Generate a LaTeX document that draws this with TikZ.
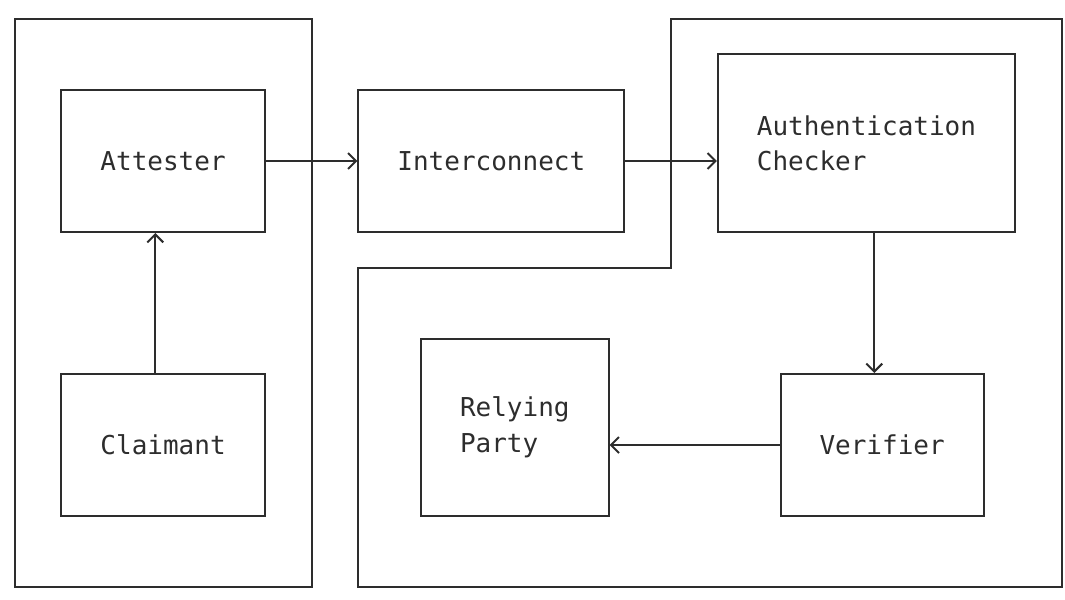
\documentclass[tikz,border=0pt]{standalone}
\usepackage{fontspec}
\setmonofont{DejaVu Sans Mono}
\usetikzlibrary{arrows.meta, positioning}
\definecolor{inkgray}{RGB}{45, 45, 45}
\newcommand{\cw}{7.815pt}
\newcommand{\rh}{17.75pt}
\tikzset{
  box/.style={draw=inkgray, line width=1pt, inner sep=0pt, text=inkgray,
    font=\fontsize{13}{17.75}\selectfont\ttfamily, align=left},
  frame/.style={draw=inkgray, line width=1pt, inner sep=0pt},
  flow/.style={draw=inkgray, line width=1pt, -{Straight Barb[length=4pt, width=8pt]}}
}

\begin{document}
\begin{tikzpicture}[x=\cw, y=-\rh]
  \useasboundingbox (-0.934,-0.535) rectangle (67.2,16.34);

  % Left frame: attester and claimant
  \node[frame, minimum width=19*\cw, minimum height=16*\rh] (leftframe) at (9.5,8) {};
  \node[box, minimum width=13*\cw, minimum height=4*\rh] (attester) at (9.5,4) {Attester};
  \node[box, minimum width=13*\cw, minimum height=4*\rh] (claimant) at (9.5,12) {Claimant};

  % Interconnect
  \node[box, minimum width=17*\cw, minimum height=4*\rh] (interconnect) at (30.5,4) {Interconnect};

  % Right frame
  \draw[frame] (42,0) -- (67,0) -- (67,16) -- (22,16) -- (22,7) -- (42,7) -- cycle;
  \node[box, minimum width=19*\cw, minimum height=5*\rh] (authchk) at (54.5,3.5) {Authentication\\Checker};
  \node[box, minimum width=12*\cw, minimum height=5*\rh] (relying) at (32,11.5) {Relying\\Party};
  \node[box, minimum width=13*\cw, minimum height=4*\rh] (verifier) at (55.5,12) {Verifier};

  % Connectors
  \draw[flow] (attester) -- (interconnect);
  \draw[flow] (interconnect.east) -- (interconnect.east -| authchk.west);
  \draw[flow] ([xshift=-0.5*\cw]claimant.north) -- ([xshift=-0.5*\cw]attester.south);
  \draw[flow] ([xshift=0.5*\cw]authchk.south) -- ([xshift=0.5*\cw]authchk.south |- verifier.north);
  \draw[flow] (verifier) -- (verifier -| relying.east);
\end{tikzpicture}
\end{document}
